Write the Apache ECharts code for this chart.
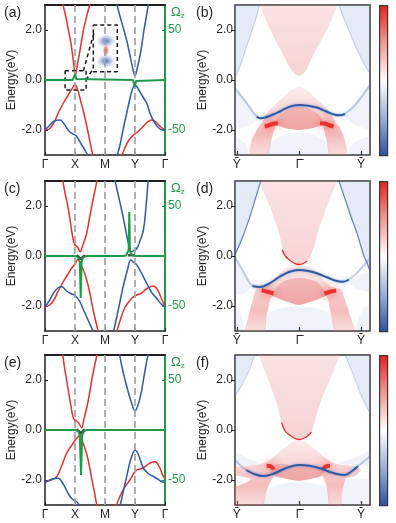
<!DOCTYPE html>
<html>
<head>
<meta charset="utf-8">
<script src="https://cdn.jsdelivr.net/npm/echarts@6/dist/echarts.min.js"></script>
<style>
html, body { margin: 0; padding: 0; background: #fff; }
#chart { width: 396px; height: 523px; }
</style>
</head>
<body>
<div id="chart"></div>
<script>
// ---------- labels / ticks ----------
const kLabels = ['\u0393', 'X', 'M', 'Y', '\u0393'];
const kDashed = [1, 2, 3];
const surfTicks = [-1, 0, 1];
const surfLabels = ['Y\u0304', '\u0393\u0304', 'Y\u0304'];
const eTicks = [-2, 0, 2];
const omegaTicks = [-50, 50];

// ---------- (a) bands [k, E]  (Γ=0 X=1 M=2 Y=3 Γ=4) ----------
const aRedCB = [[0.59,3.05],[0.7,2.5],[0.78,2.0],[0.86,1.5],[0.92,1.0],[0.97,0.5],[1.01,0.17],[1.05,0.4],[1.1,0.75],[1.14,1.0],[1.21,1.5],[1.28,2.0],[1.4,2.6],[1.5,3.05]];
const aRedVB = [[0,-2.0],[0.15,-1.95],[0.3,-1.7],[0.45,-1.3],[0.6,-0.95],[0.75,-0.65],[0.9,-0.35],[1.0,-0.18],[1.08,-0.35],[1.18,-0.8],[1.3,-1.35],[1.42,-2.0],[1.52,-2.6],[1.6,-3.05]];
const aBlueL = [[0,-2.0],[0.15,-1.82],[0.3,-1.65],[0.5,-1.6],[0.65,-1.78],[0.8,-2.05],[0.95,-2.17],[1.05,-2.25],[1.2,-2.55],[1.35,-2.85],[1.44,-3.05]];
const aBlueCB = [[2.39,3.05],[2.5,2.55],[2.63,2.0],[2.74,1.5],[2.83,1.0],[2.92,0.5],[3.0,0.17],[3.08,0.5],[3.17,1.0],[3.24,1.5],[3.3,2.0],[3.38,2.55],[3.45,3.05]];
const aBlueVB = [[2.4,-3.05],[2.5,-2.6],[2.6,-2.0],[2.72,-1.35],[2.82,-0.8],[2.92,-0.35],[3.0,-0.2],[3.1,-0.35],[3.25,-0.65],[3.4,-0.95],[3.5,-1.33],[3.65,-1.7],[3.82,-1.95],[4,-2.0]];
const aRedR = [[2.56,-3.05],[2.65,-2.75],[2.8,-2.4],[2.95,-2.2],[3.05,-2.12],[3.2,-1.95],[3.4,-1.7],[3.56,-1.6],[3.7,-1.68],[3.85,-1.87],[4,-2.0]];
const aOmega = [[0,0],[0.92,0],[0.96,1],[1.0,6],[1.04,1],[1.08,0],[2.93,0],[2.97,-1],[3.0,-7],[3.03,-1],[3.07,0],[4,0]];
const aBoxSmall = [[0.67,0.37],[1.37,0.37],[1.37,-0.4],[0.67,-0.4],[0.67,0.37]];
const aBoxBig = [[1.61,2.2],[2.41,2.2],[2.41,0.33],[1.61,0.33],[1.61,2.2]];
const aLink1 = [[1.28,0.37],[1.63,1.88]];
const aLink2 = [[1.37,0.0],[1.61,0.47]];
const aInsetBlue = [[2.03,1.56],[2.03,0.76]];
const aInsetRed = [[2.03,1.18]];

// ---------- (c) bands ----------
const cRedCB = [[0.59,3.05],[0.67,2.5],[0.76,2.0],[0.83,1.5],[0.89,1.0],[0.95,0.6],[1.0,0.45],[1.08,0.36],[1.17,0.17],[1.25,0.4],[1.39,0.91],[1.48,1.5],[1.56,2.0],[1.66,2.6],[1.74,3.05]];
const cRedVB = [[0,-2.03],[0.15,-1.97],[0.3,-1.75],[0.45,-1.38],[0.6,-1.05],[0.75,-0.75],[0.9,-0.47],[1.0,-0.32],[1.1,-0.13],[1.18,-0.3],[1.28,-0.56],[1.39,-0.96],[1.48,-1.4],[1.56,-1.89],[1.65,-2.4],[1.78,-3.05]];
const cBlueL = [[0,-2.03],[0.15,-1.78],[0.3,-1.45],[0.45,-1.26],[0.56,-1.23],[0.7,-1.38],[0.85,-1.5],[1.0,-1.57],[1.15,-1.8],[1.3,-2.2],[1.45,-2.6],[1.62,-3.05]];
const cBlueCB = [[2.33,3.05],[2.45,2.4],[2.57,1.75],[2.68,1.1],[2.78,0.5],[2.84,0.28],[2.89,0.17],[2.97,0.22],[3.06,0.3],[3.15,0.55],[3.28,1.04],[3.36,1.9],[3.44,3.05]];
const cBlueVB = [[2.28,-3.05],[2.4,-2.4],[2.52,-1.7],[2.63,-1.1],[2.75,-0.55],[2.86,-0.16],[2.95,-0.25],[3.06,-0.36],[3.2,-0.65],[3.39,-1.09],[3.55,-1.45],[3.72,-1.69],[3.87,-1.92],[4,-2.03]];
const cRedR = [[2.39,-3.05],[2.5,-2.6],[2.65,-2.1],[2.89,-1.69],[3.06,-1.56],[3.2,-1.5],[3.4,-1.3],[3.61,-1.2],[3.75,-1.35],[3.88,-1.7],[4,-2.03]];
const cOmega = [[0,0],[0.95,0],[1.05,-0.5],[1.12,-2],[1.16,-6],[1.19,-42],[1.22,-6],[1.26,-2],[1.33,-0.5],[1.4,0],[2.6,0],[2.7,0.5],[2.76,2],[2.79,6],[2.81,44],[2.83,6],[2.86,2],[2.92,0.5],[3.0,0],[4,0]];
const cGapX = [[1.05,0.03],[1.19,-0.12],[1.33,0.03]];
const cGapY = [[2.77,0.03],[3.0,0.03]];

// ---------- (e) bands ----------
const eRedCB = [[0.59,3.05],[0.65,2.5],[0.72,2.0],[0.79,1.5],[0.86,1.0],[0.92,0.6],[0.97,0.42],[1.05,0.36],[1.11,0.3],[1.22,0.1],[1.3,0.45],[1.41,1.0],[1.49,1.5],[1.56,2.0],[1.65,2.55],[1.74,3.05]];
const eRedVB = [[0,-2.07],[0.2,-2.0],[0.39,-1.87],[0.55,-1.45],[0.72,-0.93],[0.85,-0.68],[0.97,-0.47],[1.08,-0.3],[1.17,-0.2],[1.25,-0.45],[1.35,-0.8],[1.44,-1.2],[1.55,-1.9],[1.65,-2.5],[1.73,-3.05]];
const eBlueL = [[0,-2.1],[0.2,-1.98],[0.44,-1.93],[0.6,-2.15],[0.8,-2.6],[0.94,-2.8],[1.05,-2.86],[1.17,-3.05]];
const eBlueCB = [[2.48,3.05],[2.57,2.5],[2.67,2.0],[2.78,1.5],[2.88,1.1],[3.0,0.77],[3.1,1.0],[3.2,1.45],[3.28,2.0],[3.36,2.55],[3.44,3.05]];
const eBlueVB = [[2.5,-3.05],[2.62,-2.4],[2.72,-1.87],[2.85,-1.2],[2.95,-0.88],[3.0,-0.8],[3.08,-0.9],[3.18,-1.2],[3.28,-1.53],[3.45,-1.75],[3.6,-1.85],[3.72,-1.93],[3.87,-2.05],[4,-2.1]];
const eRedR = [[2.37,-3.05],[2.5,-2.65],[2.65,-2.3],[2.83,-2.0],[2.95,-1.75],[3.06,-1.6],[3.2,-1.55],[3.35,-1.45],[3.5,-1.32],[3.67,-1.27],[3.8,-1.45],[3.92,-1.8],[4,-1.95]];
const eOmega = [[0,0],[1.0,0],[1.1,-1],[1.16,-5],[1.2,-45],[1.24,-5],[1.3,-1],[1.4,0],[4,0]];
const eGapX = [[1.05,0.03],[1.2,-0.12],[1.33,0.03]];

// ---------- (b) surface spectrum [k, E]  (Ȳ=-1 Γ̄=0 Ȳ=1) ----------
const bSideL = [[-1.3,3.3],[-0.66,3.3],[-0.63,3.0],[-0.7,2.4],[-0.78,1.8],[-0.86,1.2],[-0.95,0.55],[-1.03,0.1],[-1.3,-0.5]];
const bSideR = [[0.66,3.3],[1.4,3.3],[1.4,-0.5],[1.145,0.25],[1.05,0.65],[0.92,1.3],[0.8,2.0],[0.7,2.6],[0.64,3.0]];
const bSideL2 = [[-1.3,-0.2],[-1.03,-0.3],[-0.85,-0.85],[-0.7,-1.3],[-0.64,-1.53],[-0.75,-1.75],[-0.9,-1.9],[-1.3,-2.1]];
const bSideR2 = [[1.4,0.0],[1.145,-0.15],[0.95,-0.75],[0.82,-1.15],[0.72,-1.4],[0.82,-1.65],[0.95,-1.85],[1.4,-2.1]];
const bBottom = [[-0.45,-2.5],[-0.2,-2.15],[0,-2.1],[0.2,-2.15],[0.45,-2.5],[0.54,-3.3],[-0.54,-3.3]];
const bCornerL = [[-1.3,-2.2],[-1.0,-2.3],[-0.85,-2.6],[-0.8,-3.3],[-1.3,-3.3]];
const bCornerR = [[1.4,-2.2],[1.0,-2.35],[0.82,-2.7],[0.8,-3.3],[1.4,-3.3]];
const bCond = [[-0.68,3.3],[-0.63,3.0],[-0.55,2.5],[-0.46,2.0],[-0.36,1.5],[-0.25,1.0],[-0.17,0.6],[-0.09,0.3],[0,0.16],[0.09,0.3],[0.16,0.6],[0.23,1.0],[0.34,1.5],[0.45,2.0],[0.54,2.5],[0.62,3.0],[0.67,3.3]];
const bVal = [[0,-0.27],[0.15,-0.45],[0.28,-0.75],[0.42,-1.07],[0.52,-1.35],[0.6,-1.75],[0.66,-1.9],[0.74,-2.4],[0.8,-3.3],[0.52,-3.3],[0.45,-2.5],[0.38,-1.8],[0.2,-1.93],[0,-2.0],[-0.2,-1.93],[-0.37,-1.8],[-0.45,-2.5],[-0.52,-3.3],[-0.82,-3.3],[-0.76,-2.4],[-0.66,-1.9],[-0.6,-1.75],[-0.52,-1.35],[-0.42,-1.07],[-0.28,-0.75],[-0.15,-0.45]];
const bBowl = [[-0.4,-1.78],[-0.32,-1.42],[-0.15,-1.15],[0,-1.05],[0.15,-1.13],[0.32,-1.38],[0.4,-1.78],[0.2,-1.93],[0,-2.0],[-0.2,-1.93]];
const bLobeL = [[-0.55,-1.86],[-0.47,-1.8],[-0.4,-1.74],[-0.34,-1.73]];
const bLobeR = [[0.34,-1.73],[0.41,-1.74],[0.48,-1.8],[0.56,-1.86]];
const bSurf = [[-0.68,-1.47],[-0.62,-1.53],[-0.52,-1.48],[-0.4,-1.37],[-0.3,-1.25],[-0.15,-1.07],[0,-1.0],[0.15,-1.03],[0.29,-1.1],[0.45,-1.27],[0.58,-1.39],[0.66,-1.41],[0.74,-1.36]];
const bSurfL = [[-1.03,-0.33],[-0.85,-0.9],[-0.72,-1.35],[-0.66,-1.5]];
const bSurfR = [[0.72,-1.38],[0.88,-1.07],[1.0,-0.7],[1.145,-0.2]];
const bEdgeL = [[-0.63,3.05],[-0.7,2.4],[-0.78,1.8],[-0.86,1.2],[-0.95,0.55],[-1.03,0.1]];
const bEdgeR = [[0.64,3.05],[0.7,2.6],[0.8,2.0],[0.92,1.3],[1.05,0.65],[1.145,0.25]];

// ---------- (d) surface spectrum ----------
const dSideL = [[-1.3,3.3],[-0.63,3.3],[-0.61,3.0],[-0.7,2.3],[-0.8,1.5],[-0.9,0.8],[-1.03,0.05],[-1.3,-0.5]];
const dSideR = [[0.66,3.3],[1.4,3.3],[1.4,-0.7],[1.145,-0.6],[1.1,-0.3],[1.04,0.05],[0.95,0.8],[0.85,1.5],[0.74,2.3],[0.64,3.0]];
const dSideL2 = [[-1.3,-0.1],[-1.03,-0.15],[-0.88,-0.7],[-0.76,-1.2],[-0.85,-1.45],[-1.03,-1.6],[-1.3,-1.7]];
const dSideR2 = [[1.4,-0.7],[1.145,-0.65],[0.92,-0.8],[0.8,-1.0],[0.9,-1.3],[1.145,-1.45],[1.4,-1.5]];
const dBottom = [[-0.5,-2.3],[-0.25,-2.07],[0,-2.02],[0.25,-2.07],[0.5,-2.3],[0.6,-3.3],[-0.57,-3.3]];
const dCornerL = [[-1.3,-1.9],[-1.0,-2.0],[-0.9,-2.6],[-0.89,-3.3],[-1.3,-3.3]];
const dCornerR = [[1.4,-1.9],[1.05,-2.05],[0.95,-2.6],[0.92,-3.3],[1.4,-3.3]];
const dCond = [[-0.69,3.3],[-0.64,3.0],[-0.56,2.5],[-0.47,2.0],[-0.4,1.5],[-0.33,1.0],[-0.28,0.5],[-0.25,0.11],[-0.17,-0.12],[-0.09,-0.25],[0,-0.35],[0.1,-0.25],[0.17,-0.1],[0.22,0.2],[0.27,0.6],[0.31,1.0],[0.38,1.5],[0.45,2.0],[0.53,2.5],[0.62,3.0],[0.67,3.3]];
const dCondEdge = [[-0.27,0.25],[-0.22,0.0],[-0.15,-0.17],[-0.08,-0.28],[0,-0.34],[0.07,-0.3],[0.13,-0.2]];
const dVal = [[0,-0.25],[0.15,-0.4],[0.3,-0.68],[0.42,-1.0],[0.52,-1.22],[0.68,-1.35],[0.75,-1.8],[0.84,-2.5],[0.93,-3.3],[0.6,-3.3],[0.52,-2.4],[0.45,-1.6],[0.25,-1.78],[0,-1.96],[-0.25,-1.78],[-0.44,-1.6],[-0.52,-2.4],[-0.57,-3.3],[-0.9,-3.3],[-0.82,-2.5],[-0.75,-1.8],[-0.68,-1.3],[-0.52,-1.22],[-0.42,-1.0],[-0.3,-0.68],[-0.15,-0.4]];
const dBowl = [[-0.44,-1.55],[-0.3,-1.1],[-0.15,-0.92],[0,-0.87],[0.15,-0.92],[0.3,-1.05],[0.45,-1.55],[0.25,-1.78],[0,-1.96],[-0.25,-1.78]];
const dLobeL = [[-0.6,-1.37],[-0.52,-1.42],[-0.46,-1.46],[-0.41,-1.5]];
const dLobeR = [[0.41,-1.5],[0.46,-1.46],[0.52,-1.42],[0.6,-1.39]];
const dSurf = [[-0.75,-1.2],[-0.63,-1.24],[-0.5,-1.13],[-0.31,-0.83],[-0.15,-0.63],[0,-0.56],[0.15,-0.6],[0.29,-0.69],[0.45,-0.85],[0.61,-1.0],[0.71,-1.03],[0.8,-0.95]];
const dSurfL = [[-1.03,-0.05],[-0.9,-0.6],[-0.8,-1.05],[-0.73,-1.2]];
const dSurfR = [[0.78,-0.97],[0.9,-0.76],[1.02,-0.45],[1.145,-0.1]];
const dEdgeL = [[-0.61,3.05],[-0.7,2.3],[-0.8,1.5],[-0.9,0.8],[-1.03,0.05]];
const dEdgeR = [[0.64,3.05],[0.74,2.3],[0.85,1.5],[0.95,0.8],[1.04,0.05],[1.1,-0.3],[1.145,-0.6]];

// ---------- (f) surface spectrum ----------
const fSideL = [[-1.3,3.3],[-0.73,3.3],[-0.71,3.0],[-0.8,2.4],[-0.92,1.8],[-1.03,1.35],[-1.3,1.0]];
const fSideR = [[0.76,3.3],[1.4,3.3],[1.4,0.5],[1.145,0.67],[1.0,1.4],[0.86,2.3],[0.74,3.0]];
const fSideL2 = [[-1.3,-0.8],[-1.03,-0.85],[-0.8,-1.15],[-0.62,-1.33],[-0.9,-1.42],[-1.3,-1.42]];
const fSideR2 = [[1.4,-0.8],[1.145,-0.85],[0.85,-1.15],[0.62,-1.33],[0.95,-1.42],[1.4,-1.42]];
const fBottom = [[-0.45,-2.3],[-0.2,-2.12],[0,-2.08],[0.2,-2.12],[0.45,-2.3],[0.5,-3.3],[-0.62,-3.3]];
const fCornerR = [[1.4,-2.0],[0.75,-2.0],[0.7,-2.5],[0.66,-3.3],[1.4,-3.3]];
const fCond = [[-0.7,3.3],[-0.65,3.0],[-0.57,2.5],[-0.49,2.0],[-0.42,1.5],[-0.35,1.0],[-0.3,0.5],[-0.25,0.07],[-0.17,-0.15],[-0.09,-0.29],[0,-0.38],[0.1,-0.29],[0.16,-0.15],[0.2,-0.07],[0.26,0.4],[0.33,1.0],[0.41,1.5],[0.5,2.0],[0.58,2.5],[0.66,3.0],[0.71,3.3]];
const fCondEdge = [[-0.28,0.3],[-0.22,-0.05],[-0.15,-0.2],[-0.08,-0.32],[0,-0.38],[0.08,-0.33],[0.15,-0.22],[0.2,-0.08]];
const fVal = [[0,-0.33],[0.15,-0.55],[0.3,-0.85],[0.47,-1.2],[0.6,-1.35],[0.9,-1.45],[1.0,-1.6],[0.9,-1.85],[0.75,-1.95],[0.7,-2.5],[0.66,-3.3],[0.5,-3.3],[0.45,-2.3],[0.38,-1.85],[0.2,-1.95],[0,-2.03],[-0.2,-1.95],[-0.4,-1.85],[-0.5,-2.3],[-0.62,-3.3],[-1.3,-3.3],[-1.3,-2.6],[-0.85,-2.1],[-0.78,-1.95],[-0.95,-1.85],[-1.3,-1.75],[-1.3,-1.45],[-0.9,-1.45],[-0.6,-1.35],[-0.47,-1.2],[-0.3,-0.85],[-0.15,-0.55]];
const fBowl = [[-0.47,-1.5],[-0.3,-1.35],[-0.15,-1.4],[0,-1.45],[0.15,-1.45],[0.3,-1.52],[0.47,-1.5],[0.35,-1.85],[0.2,-1.95],[0,-2.03],[-0.2,-1.95],[-0.38,-1.85]];
const fLobeL = [[-0.52,-1.43],[-0.47,-1.44],[-0.43,-1.5],[-0.41,-1.58]];
const fLobeR = [[0.39,-1.58],[0.41,-1.5],[0.45,-1.44],[0.5,-1.43]];
const fSurf = [[-0.85,-1.6],[-0.7,-1.78],[-0.57,-1.84],[-0.42,-1.76],[-0.2,-1.52],[0,-1.4],[0.17,-1.43],[0.34,-1.53],[0.5,-1.68],[0.61,-1.76],[0.74,-1.8],[0.85,-1.65],[0.95,-1.45]];
const fSurfL = [[-1.03,-1.2],[-0.93,-1.45],[-0.85,-1.6]];
const fSurfR = [[0.93,-1.48],[1.05,-1.25],[1.145,-1.05]];
const fEdgeL = [[-0.71,3.05],[-0.8,2.4],[-0.92,1.8],[-1.03,1.35]];
const fEdgeR = [[0.74,3.05],[0.86,2.3],[1.0,1.4],[1.145,0.67]];

// ---------- styles ----------
const FONT = '"Liberation Sans", Arial, sans-serif';
const INK = '#231f20';
const RED = '#e5322d';
const BLUE = '#2e5aa7';
const GREEN = '#1f9a48';
const TOPS = [5, 181, 355];

const PINK = new echarts.graphic.LinearGradient(0, 0, 0, 1, [
  { offset: 0, color: 'rgba(236,150,150,0.26)' },
  { offset: 1, color: 'rgba(232,125,125,0.34)' }
]);
const VALPINK = new echarts.graphic.LinearGradient(0, 0, 0, 1, [
  { offset: 0, color: 'rgba(238,160,160,0.2)' },
  { offset: 0.5, color: 'rgba(232,115,115,0.4)' },
  { offset: 0.62, color: 'rgba(232,105,105,0.45)' },
  { offset: 1, color: 'rgba(236,150,150,0.22)' }
]);
const BOWL = 'rgba(228,85,85,0.28)';
const PALEBLUE = 'rgba(120,150,210,0.2)';
const FAINTBLUE = 'rgba(140,165,215,0.13)';

function poly(ax, pts, fill) {
  return {
    type: 'custom', xAxisIndex: ax, yAxisIndex: ax, silent: true, clip: true,
    data: pts, encode: { x: 0, y: 1 },
    renderItem: function (params, api) {
      if (params.dataIndex !== 0) return null;
      const cs = params.coordSys;
      return {
        type: 'polygon',
        shape: { points: pts.map(p => api.coord(p)), smooth: 0.15 },
        style: { fill: fill },
        clipPath: { type: 'rect', shape: { x: cs.x, y: cs.y, width: cs.width, height: cs.height } }
      };
    }
  };
}

function line(xi, yi, data, color, width, extra) {
  return Object.assign({
    type: 'line', xAxisIndex: xi, yAxisIndex: yi, data: data,
    smooth: 0.4, showSymbol: false, silent: true, clip: true,
    lineStyle: { color: color, width: width }
  }, extra || {});
}

const grid = [], xAxis = [], yAxis = [], series = [], graphic = [];

// ---------- left column ----------
const leftPanels = [
  { red: [aRedCB, aRedVB, aRedR], blue: [aBlueL, aBlueCB, aBlueVB], omega: aOmega, gaps: [] },
  { red: [cRedCB, cRedVB, cRedR], blue: [cBlueL, cBlueCB, cBlueVB], omega: cOmega, gaps: [cGapX, cGapY] },
  { red: [eRedCB, eRedVB, eRedR], blue: [eBlueL, eBlueCB, eBlueVB], omega: eOmega, gaps: [eGapX] }
];

leftPanels.forEach((p, i) => {
  grid.push({ left: 45, top: TOPS[i], width: 120, height: 150 });
  const tx = { color: INK, fontSize: 12, fontFamily: FONT };
  xAxis.push({
    gridIndex: i, type: 'value', min: 0, max: 4, interval: 1, position: 'bottom',
    axisLine: { onZero: false, lineStyle: { color: INK, width: 1.5 } },
    axisTick: { inside: true, length: 3, lineStyle: { color: INK } },
    axisLabel: Object.assign({ margin: 4, formatter: v => kLabels[Math.round(v)] }, tx),
    splitLine: { show: false }
  });
  xAxis.push({
    gridIndex: i, type: 'value', min: 0, max: 4, position: 'top',
    axisLine: { onZero: false, lineStyle: { color: INK, width: 2 } },
    axisTick: { show: false }, axisLabel: { show: false }, splitLine: { show: false }
  });
  yAxis.push({
    gridIndex: i, type: 'value', min: -3, max: 3, position: 'left',
    axisLine: { show: true, onZero: false, lineStyle: { color: INK, width: 1.5 } },
    axisTick: { show: true, inside: true, length: 3, customValues: eTicks, lineStyle: { color: INK } },
    axisLabel: Object.assign({ margin: 3, customValues: eTicks, formatter: v => v.toFixed(1) }, tx),
    splitLine: { show: false },
    name: 'Energy(eV)', nameLocation: 'middle', nameGap: 26,
    nameTextStyle: Object.assign({}, tx)
  });
  yAxis.push({
    gridIndex: i, type: 'value', min: -75, max: 75, position: 'right',
    axisLine: { show: true, onZero: false, lineStyle: { color: GREEN, width: 2 } },
    axisTick: { show: true, inside: true, length: 3, customValues: omegaTicks, lineStyle: { color: GREEN } },
    axisLabel: { margin: 3, customValues: omegaTicks, color: GREEN, fontSize: 12, fontFamily: FONT },
    splitLine: { show: false }
  });
  const xi = 2 * i, ye = 2 * i, yo = 2 * i + 1;
  // dashed high-symmetry guides
  series.push(line(xi, ye, [], '#999', 0, {
    markLine: {
      silent: true, symbol: 'none', label: { show: false },
      lineStyle: { color: '#a3a3a3', type: [7, 4], width: 1.7 },
      data: kDashed.map(k => ({ xAxis: k }))
    }
  }));
  p.red.forEach(d => series.push(line(xi, ye, d, RED, 1.5)));
  p.blue.forEach(d => series.push(line(xi, ye, d, BLUE, 1.5)));
  p.gaps.forEach(d => series.push(line(xi, ye, d, '#4a4a4a', 2.5, { smooth: false, z: 3 })));
  if (i === 0) {
    series.push(poly(xi, aBoxBig, '#fff'));
    series.push({
      type: 'scatter', xAxisIndex: xi, yAxisIndex: ye, data: aInsetBlue, symbol: 'circle', symbolSize: [20, 14], silent: true,
      itemStyle: { color: new echarts.graphic.RadialGradient(0.5, 0.5, 0.5, [
        { offset: 0, color: '#2a4c9c' }, { offset: 0.35, color: 'rgba(70,100,185,0.65)' }, { offset: 1, color: 'rgba(150,170,225,0)' }]) }
    });
    series.push({
      type: 'scatter', xAxisIndex: xi, yAxisIndex: ye, data: aInsetRed, symbol: 'circle', symbolSize: [7, 13], silent: true,
      itemStyle: { color: new echarts.graphic.RadialGradient(0.5, 0.5, 0.5, [
        { offset: 0, color: '#e0231f' }, { offset: 0.45, color: 'rgba(230,60,60,0.7)' }, { offset: 1, color: 'rgba(240,150,150,0)' }]) }
    });
    [aBoxSmall, aBoxBig, aLink1, aLink2].forEach(d =>
      series.push(line(xi, ye, d, '#1a1a1a', 1.5, { smooth: false, z: 4, lineStyle: { color: '#1a1a1a', width: 1.5, type: [4, 3] } })));
  }
  series.push(line(xi, yo, p.omega, GREEN, 2, { smooth: false, z: 5 }));

  graphic.push({ type: 'text', left: 4, top: TOPS[i] + 1, style: { text: '(' + 'ace'[i] + ')', font: '14px ' + FONT, fill: INK } });
  graphic.push({ type: 'text', left: 171, top: TOPS[i] + 1, style: {
    text: '{o|\u03A9}{z|z}', fill: GREEN,
    rich: { o: { font: '13px ' + FONT, fill: GREEN }, z: { font: '8px ' + FONT, fill: GREEN, padding: [7, 0, 0, 0] } }
  } });
});

// ---------- right column ----------
const rightPanels = [
  { sides: [bSideL, bSideR], sides2: [bSideL2, bSideR2, bBottom, bCornerL, bCornerR], cond: bCond, val: bVal, bowl: bBowl,
    lobes: [bLobeL, bLobeR], surf: bSurf, surfFaint: [bSurfL, bSurfR], edges: [bEdgeL, bEdgeR], edgeColor: 'rgba(70,105,180,0.25)', condEdge: null },
  { sides: [dSideL, dSideR], sides2: [dSideL2, dSideR2, dBottom, dCornerL, dCornerR], cond: dCond, val: dVal, bowl: dBowl,
    lobes: [dLobeL, dLobeR], surf: dSurf, surfFaint: [dSurfL, dSurfR], edges: [dEdgeL, dEdgeR], edgeColor: 'rgba(50,90,175,0.75)', condEdge: dCondEdge },
  { sides: [fSideL, fSideR], sides2: [fSideL2, fSideR2, fBottom, fCornerR], cond: fCond, val: fVal, bowl: fBowl,
    lobes: [fLobeL, fLobeR], surf: fSurf, surfFaint: [fSurfL, fSurfR], edges: [fEdgeL, fEdgeR], edgeColor: 'rgba(70,105,180,0.22)', condEdge: fCondEdge }
];

rightPanels.forEach((p, j) => {
  const gi = 3 + j, ax = 6 + j;
  grid.push({ left: 235, top: TOPS[j], width: 135, height: 150, show: true, borderColor: '#3b3535', borderWidth: 1.5, backgroundColor: '#fff' });
  const tx = { color: INK, fontSize: 12, fontFamily: FONT };
  xAxis.push({
    gridIndex: gi, type: 'value', min: -1.03, max: 1.145,
    axisLine: { show: false, onZero: false },
    axisTick: { show: true, inside: true, length: 4, customValues: surfTicks, lineStyle: { color: INK, width: 1.2 } },
    axisLabel: Object.assign({ margin: 4, customValues: surfTicks, formatter: v => surfLabels[Math.round(v) + 1] }, tx),
    splitLine: { show: false }
  });
  yAxis.push({
    gridIndex: gi, type: 'value', min: -3, max: 3,
    axisLine: { show: false, onZero: false },
    axisTick: { show: true, inside: false, length: 4, customValues: eTicks, lineStyle: { color: INK } },
    axisLabel: Object.assign({ margin: 2, customValues: eTicks, formatter: v => v.toFixed(1) }, tx),
    splitLine: { show: false },
    name: 'Energy(eV)', nameLocation: 'middle', nameGap: 25,
    nameTextStyle: Object.assign({}, tx)
  });
  p.sides.forEach(d => series.push(poly(ax, d, PALEBLUE)));
  p.sides2.forEach(d => series.push(poly(ax, d, FAINTBLUE)));
  series.push(poly(ax, p.cond, PINK));
  series.push(poly(ax, p.val, VALPINK));
  series.push(poly(ax, p.bowl, BOWL));
  p.edges.forEach(d => series.push(line(ax, ax, d, p.edgeColor, 1.2)));
  p.lobes.forEach(d => series.push(line(ax, ax, d, '#e8261f', 4, {
    lineStyle: { color: 'rgba(232,38,31,0.9)', width: 4, shadowBlur: 10, shadowColor: 'rgba(232,40,35,1)' } })));
  p.surfFaint.forEach(d => series.push(line(ax, ax, d, 'rgba(60,95,175,0.3)', 2)));
  if (p.condEdge) series.push(line(ax, ax, p.condEdge, '#e0302a', 1.3));
  series.push(line(ax, ax, p.surf, BLUE, 2, {
    lineStyle: { color: BLUE, width: 2, shadowBlur: 3, shadowColor: 'rgba(46,90,167,0.5)' } }));

  graphic.push({ type: 'text', left: 196, top: TOPS[j] + 1, style: { text: '(' + 'bdf'[j] + ')', font: '14px ' + FONT, fill: INK } });
  graphic.push({ type: 'rect', left: 379, top: TOPS[j], shape: { width: 8, height: 150 }, style: {
    fill: new echarts.graphic.LinearGradient(0, 0, 0, 1, [
      { offset: 0, color: '#e3211c' }, { offset: 0.22, color: '#f08985' }, { offset: 0.5, color: '#ffffff' },
      { offset: 0.78, color: '#8da3d3' }, { offset: 1, color: '#2a4f9f' }]),
    stroke: '#3b3535', lineWidth: 1.2 } });
});

const chart = echarts.init(document.getElementById('chart'));
chart.setOption({
  animation: false,
  backgroundColor: '#fff',
  grid: grid,
  xAxis: xAxis,
  yAxis: yAxis,
  series: series,
  graphic: graphic
});
</script>
</body>
</html>
